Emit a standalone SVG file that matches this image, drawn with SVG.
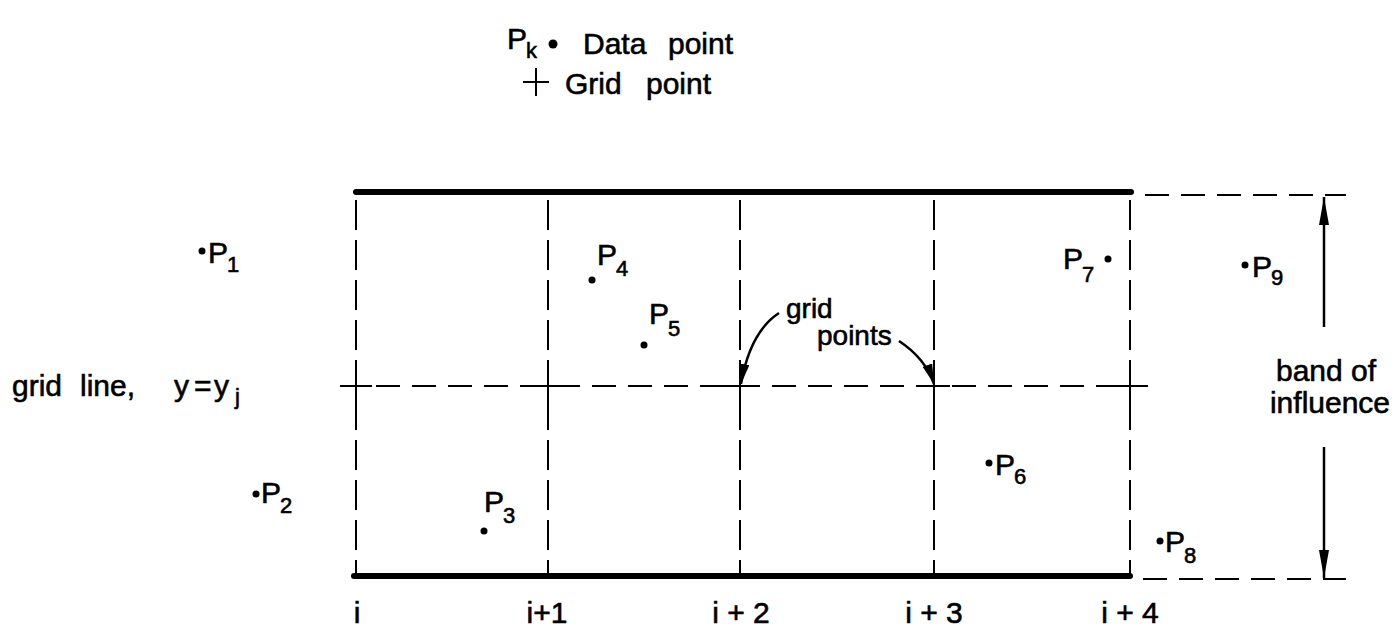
<svg xmlns="http://www.w3.org/2000/svg" width="1398" height="632" viewBox="0 0 1398 632">
<defs>
<style>
text{font-family:"Liberation Sans","DejaVu Sans",sans-serif;fill:#000;stroke:#000;stroke-width:0.6}
.t{font-size:30px}
.s{font-size:22px}
.g{font-size:28px}
.thick{stroke:#000;stroke-width:6;stroke-linecap:round;fill:none}
.vd{stroke:#000;stroke-width:2;stroke-dasharray:30 10;fill:none}
.hd{stroke:#000;stroke-width:2;stroke-dasharray:24 12;fill:none}
.sol{stroke:#000;stroke-width:2;fill:none}
.arr{stroke:#000;stroke-width:2.5;fill:none}
</style>
<marker id="ah" viewBox="0 0 20 10" refX="20" refY="5" markerWidth="20" markerHeight="10" markerUnits="userSpaceOnUse" orient="auto">
<path d="M0,0 L20,5 L0,10 Z" fill="#000"/>
</marker>
<marker id="ah2" viewBox="0 0 28 10" refX="28" refY="5" markerWidth="28" markerHeight="10" markerUnits="userSpaceOnUse" orient="auto">
<path d="M0,0 L28,5 L0,10 Z" fill="#000"/>
</marker>
</defs>
<rect width="1398" height="632" fill="#fff"/>

<g id="legend">
<text class="t" x="507" y="49">P</text><text class="s" x="526" y="58">k</text>
<circle cx="553" cy="44" r="4.5"/>
<text class="t" x="583" y="54">Data</text>
<text class="t" x="668" y="54">point</text>
<path class="sol" d="M523,82 H549 M536,68 V96"/>
<text class="t" x="565" y="94">Grid</text>
<text class="t" x="646" y="94">point</text>
</g>

<g id="connectors">
<path class="thick" d="M356,192 H1131"/>
<path class="thick" d="M354,576 H1130"/>
<path class="vd" d="M356,200 V576 M548,200 V576 M740,200 V576 M934,200 V576 M1130,200 V576"/>
<path class="hd" d="M340,386 H1148"/>
<path class="sol" d="M340,386 H372 M356,372 V400 M532,386 H564 M548,372 V400 M724,386 H756 M740,372 V400 M918,386 H950 M934,372 V400 M1114,386 H1148 M1130,372 V400"/>
<path class="hd" d="M1145,195 H1346 M1143,579 H1346"/>
<path class="arr" d="M1324,327 V197" marker-end="url(#ah2)"/>
<path class="arr" d="M1324,447 V578" marker-end="url(#ah2)"/>
<path class="arr" d="M779,313 Q750,332 741,384" marker-end="url(#ah)"/>
<path class="arr" d="M899,341 Q925,358 934,384" marker-end="url(#ah)"/>
</g>

<g id="grid-points-label">
<text class="g" x="786" y="318">grid</text>
<text class="g" x="817" y="345">points</text>
</g>

<g id="grid-line-label">
<text class="t" x="12" y="396">grid</text>
<text class="t" x="80" y="396">line,</text>
<text class="t" x="174" y="396">y</text>
<text class="t" x="194" y="396">=</text>
<text class="t" x="214" y="396">y</text>
<text class="s" x="235" y="404">j</text>
</g>

<g id="band-label">
<text class="t" x="1326" y="381" text-anchor="middle">band of</text>
<text class="t" x="1330" y="413" text-anchor="middle">influence</text>
</g>

<g id="p1"><circle cx="202" cy="251" r="3.5"/><text class="t" x="208" y="263">P</text><text class="s" x="227" y="272">1</text></g>
<g id="p2"><circle cx="256" cy="494" r="3.5"/><text class="t" x="261" y="503">P</text><text class="s" x="280" y="513">2</text></g>
<g id="p3"><circle cx="484" cy="531" r="3.5"/><text class="t" x="484" y="512">P</text><text class="s" x="503" y="523">3</text></g>
<g id="p4"><circle cx="592" cy="280" r="3.5"/><text class="t" x="597" y="265">P</text><text class="s" x="616" y="276">4</text></g>
<g id="p5"><circle cx="644" cy="345" r="3.5"/><text class="t" x="649" y="324">P</text><text class="s" x="668" y="336">5</text></g>
<g id="p6"><circle cx="989" cy="463" r="3.5"/><text class="t" x="995" y="475">P</text><text class="s" x="1014" y="484">6</text></g>
<g id="p7"><circle cx="1108" cy="259" r="3.5"/><text class="t" x="1063" y="269">P</text><text class="s" x="1082" y="282">7</text></g>
<g id="p8"><circle cx="1160" cy="541" r="3.5"/><text class="t" x="1165" y="552">P</text><text class="s" x="1184" y="563">8</text></g>
<g id="p9"><circle cx="1245" cy="265" r="3.5"/><text class="t" x="1252" y="277">P</text><text class="s" x="1271" y="285">9</text></g>

<g id="axis-labels">
<text class="t" x="357" y="623" text-anchor="middle">i</text>
<text class="t" x="547" y="623" text-anchor="middle">i+1</text>
<text class="t" x="741" y="623" text-anchor="middle">i + 2</text>
<text class="t" x="934" y="623" text-anchor="middle">i + 3</text>
<text class="t" x="1130" y="623" text-anchor="middle">i + 4</text>
</g>
</svg>
